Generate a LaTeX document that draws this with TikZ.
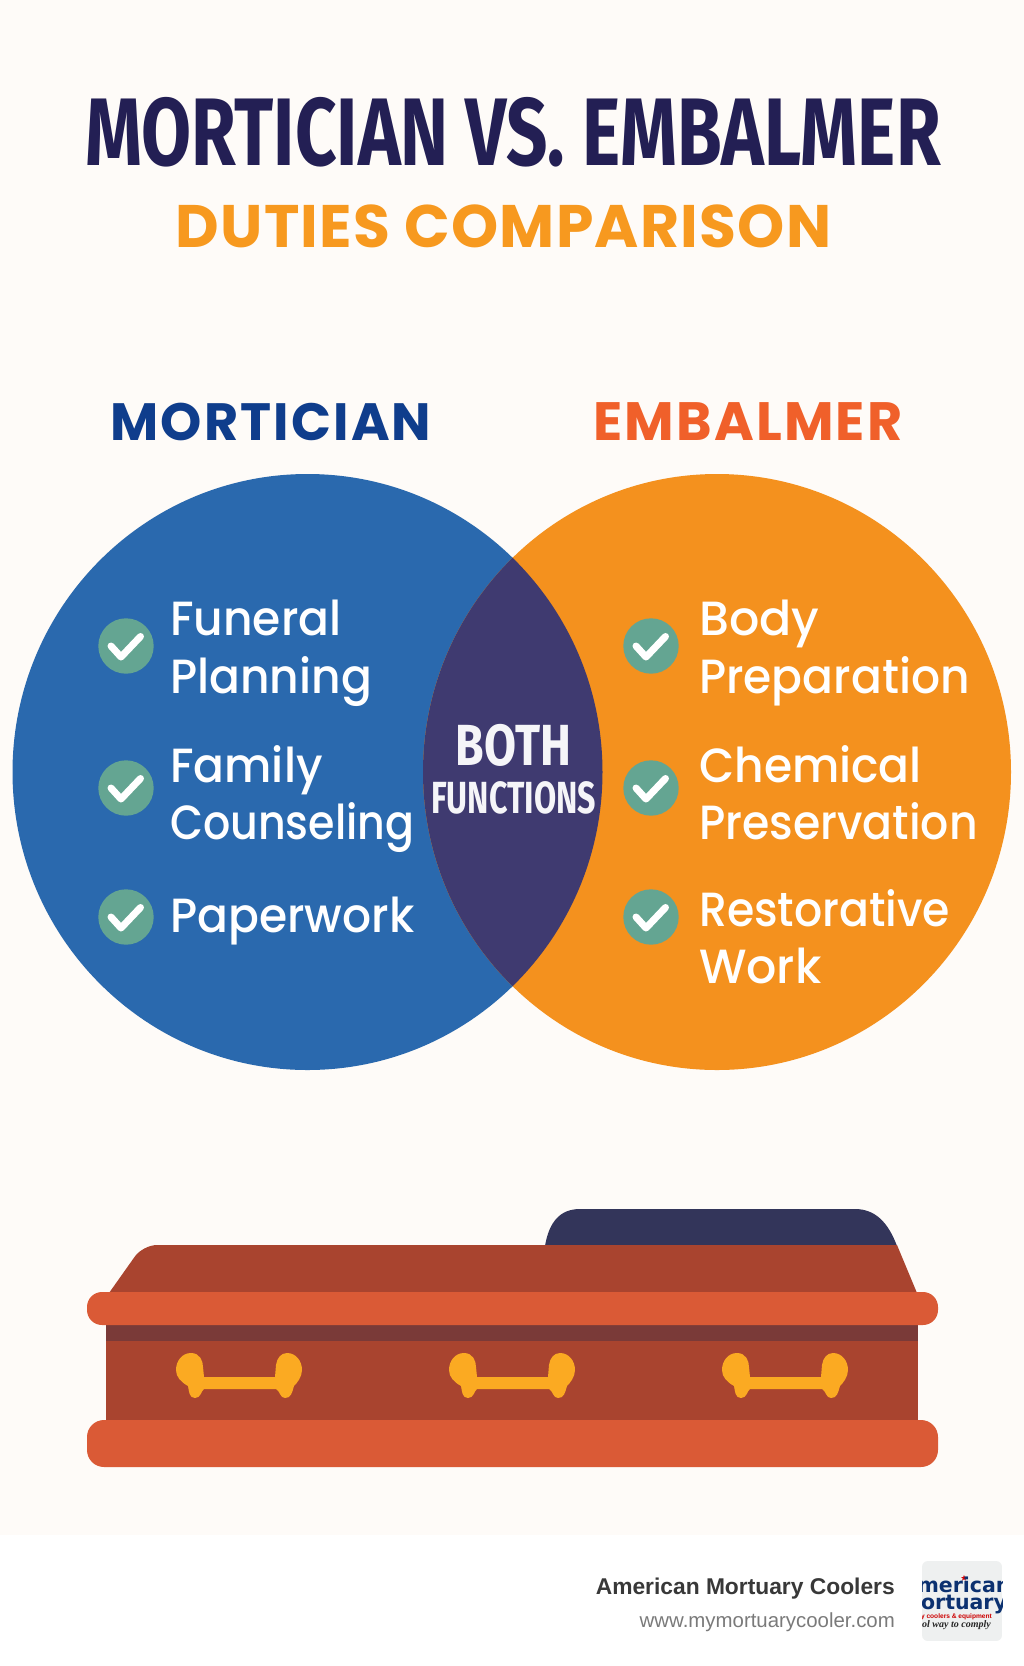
\documentclass[tikz,border=0pt]{standalone}
\usepackage{fontspec}
\setmainfont{Poppins}
\newfontfamily\titlefont[FakeStretch=0.755]{Fira Sans}
\newfontfamily\bothfont[FakeStretch=0.8]{Fira Sans}
\newfontfamily\funcfont[FakeStretch=0.715]{Fira Sans}
\newfontfamily\subfont[LetterSpace=2.1]{Poppins}
\newfontfamily\headfont[LetterSpace=4]{Poppins}
\newfontfamily\dutyfont[FakeStretch=0.95]{Poppins Medium}
\newfontfamily\dutywide[FakeStretch=0.99]{Poppins Medium}
\newfontfamily\dutytight[FakeStretch=0.92]{Poppins Medium}
\newfontfamily\dutynarrow[FakeStretch=0.89]{Poppins Medium}
\newfontfamily\footfont{Liberation Sans}
\newfontfamily\logofont{DejaVu Sans}
\newfontfamily\mottofont{Liberation Serif}

\definecolor{paper}{HTML}{FEFBF8}
\definecolor{navytitle}{HTML}{231F54}
\definecolor{amber}{HTML}{F7991F}
\definecolor{mortblue}{HTML}{2A69AE}
\definecolor{mortdark}{HTML}{0F3D8C}
\definecolor{embalmorange}{HTML}{F4911E}
\definecolor{embalmred}{HTML}{F0602A}
\definecolor{overlap}{HTML}{3F3A70}
\definecolor{checkgreen}{HTML}{64A592}
\definecolor{woodbrown}{HTML}{A9442F}
\definecolor{woodband}{HTML}{7A3A38}
\definecolor{railorange}{HTML}{DA5A36}
\definecolor{pillownavy}{HTML}{33355A}
\definecolor{handlegold}{HTML}{FBAA22}
\definecolor{logogrey}{HTML}{EEF0F0}

\tikzset{
	heading/.style={anchor=base,inner sep=0pt},
	duty/.style={anchor=base west,inner sep=0pt,text=white,font=\dutyfont\fontsize{48}{48}\selectfont},
	logotext/.style={anchor=base,inner sep=0pt},
	tick/.pic={
		\fill[checkgreen] (0,0) circle (27.7);
		\draw[white,line width=7pt,line cap=round,line join=round] (-15,0) -- (-5,11) -- (14.5,-9.5);
	},
	handle/.pic={
		\fill[handlegold] (15,0) .. controls (24,0) and (27,8) .. (27,14) -- (28,24) -- (99,24) -- (100,12)
			.. controls (101,5) and (105,0) .. (111,0) .. controls (120,0) and (126,8) .. (126,17)
			.. controls (126,24) and (121,30) .. (118,33) .. controls (116,40) and (115,45) .. (109,45)
			.. controls (104,45) and (104,38) .. (100,36) -- (28,36)
			.. controls (25,38) and (25,45) .. (19,45) .. controls (13,45) and (13,38) .. (12,33)
			.. controls (5,29) and (0,24) .. (0,17) .. controls (0,8) and (6,0) .. (15,0) -- cycle;
	}
}

\begin{document}
\begin{tikzpicture}[line cap=round,line join=round,x=1pt,y=-1pt]
	\useasboundingbox (0,0) rectangle (1024,1666);
	\fill[white] (0,0) rectangle (1024,1666);
	\fill[paper] (0,0) rectangle (1024,1535);
	% title
	\node[anchor=base,text=navytitle,inner sep=0pt,font=\titlefont\fontsize{96}{96}\selectfont\bfseries] (title) at (513,165) {MORTICIAN VS. EMBALMER};
	\node[anchor=base,text=amber,inner sep=0pt,font=\subfont\fontsize{60}{60}\selectfont\bfseries] (subtitle) at (503.5,247) {DUTIES COMPARISON};
	\node[heading,text=mortdark,font=\headfont\fontsize{52.5}{52.5}\selectfont\bfseries] (mortician) at (271,440) {MORTICIAN};
	\node[heading,text=embalmred,font=\headfont\fontsize{54}{54}\selectfont\bfseries] (embalmer) at (748,440) {EMBALMER};
	% venn
	\fill[mortblue] (307.5,772) ellipse (295 and 298);
	\fill[embalmorange] (717,772) ellipse (294 and 298);
	\begin{scope}
		\clip (307.5,772) ellipse (295 and 298);
		\fill[overlap] (717,772) ellipse (294 and 298);
	\end{scope}
	\node[anchor=base,text=white!95!overlap,inner sep=0pt,font=\bothfont\fontsize{58}{58}\selectfont\bfseries] (both) at (513.5,765) {BOTH};
	\node[anchor=base,text=white!95!overlap,inner sep=0pt,font=\funcfont\fontsize{45}{45}\selectfont\bfseries] (functions) at (513.5,813) {FUNCTIONS};
	% ticks
	\foreach \x in {126,651}
	\foreach \y in {646,788,917}
	\pic at (\x,\y) {tick};
	% left duties
	\node[duty] (funeral) at (170,635) {Funeral};
	\node[duty] (planning) at (170,693) {Planning};
	\node[duty] (family) at (170,782) {Family};
	\node[duty] (counseling) at (170,839) {\dutynarrow Counseling};
	\node[duty] (paperwork) at (170,932) {Paperwork};
	% right duties
	\node[duty] (bodyline) at (699,635) {\dutywide Body};
	\node[duty] (preparation) at (699,693) {Preparation};
	\node[duty] (chemical) at (699,782) {Chemical};
	\node[duty] (preservation) at (699,839) {\dutytight Preservation};
	\node[duty] (restorative) at (699,926) {\dutytight Restorative};
	\node[duty] (work) at (699,983) {\dutywide Work};
	% coffin
	\fill[pillownavy] (545,1246) .. controls (549,1222) and (560,1209) .. (580,1209) -- (855,1209) .. controls (875,1209) and (888,1222) .. (897,1246) -- cycle;
	\fill[woodbrown] (109,1293) [rounded corners=14pt] -- (143,1245) -- (600,1245) [sharp corners] -- (897,1245) -- (917,1293) -- cycle;
	\fill[woodbrown] (106,1320) rectangle (918,1425);
	\fill[woodband] (106,1325) rectangle (918,1341);
	\fill[railorange,rounded corners=15pt] (87,1292) rectangle (938,1325);
	\fill[railorange,rounded corners=17pt] (87,1420) rectangle (938,1467);
	\foreach \x in {176,449,722}
	\pic at (\x,1353) {handle};
	% footer
	\node[anchor=base east,inner sep=0pt,text=black!78,font=\footfont\fontsize{22.8}{22.8}\selectfont\bfseries] (brand) at (895,1594) {American Mortuary Coolers};
	\node[anchor=base east,inner sep=0pt,text=black!52,font=\footfont\fontsize{20.4}{20.4}\selectfont] (site) at (895,1627) {www.mymortuarycooler.com};
	\begin{scope}
		\clip[rounded corners=6pt] (922,1561) rectangle (1002,1641);
		\fill[logogrey] (922,1561) rectangle (1002,1641);
		\fill[red!85!black] (964,1575) -- (964.8,1577) -- (967,1577) -- (965.2,1578.4) -- (966,1580.6) -- (964,1579.2) -- (962,1580.6) -- (962.8,1578.4) -- (961,1577) -- (963.2,1577) -- cycle;
		\node[logotext,align=center,text=mortdark!80!black,font=\logofont\fontsize{20.5}{17}\selectfont\bfseries] (logoname) at (964,1609) {merican\\ortuary};
		\node[logotext,anchor=base east,text=red!80!black,font=\footfont\fontsize{6.6}{6.6}\selectfont\bfseries] (logoline) at (992,1618) {ary coolers \& equipment};
		\node[logotext,anchor=base east,text=black!85,font=\mottofont\fontsize{10}{10}\selectfont\bfseries\itshape] (logomotto) at (991,1627) {ool way to comply};
	\end{scope}
\end{tikzpicture}
\end{document}
